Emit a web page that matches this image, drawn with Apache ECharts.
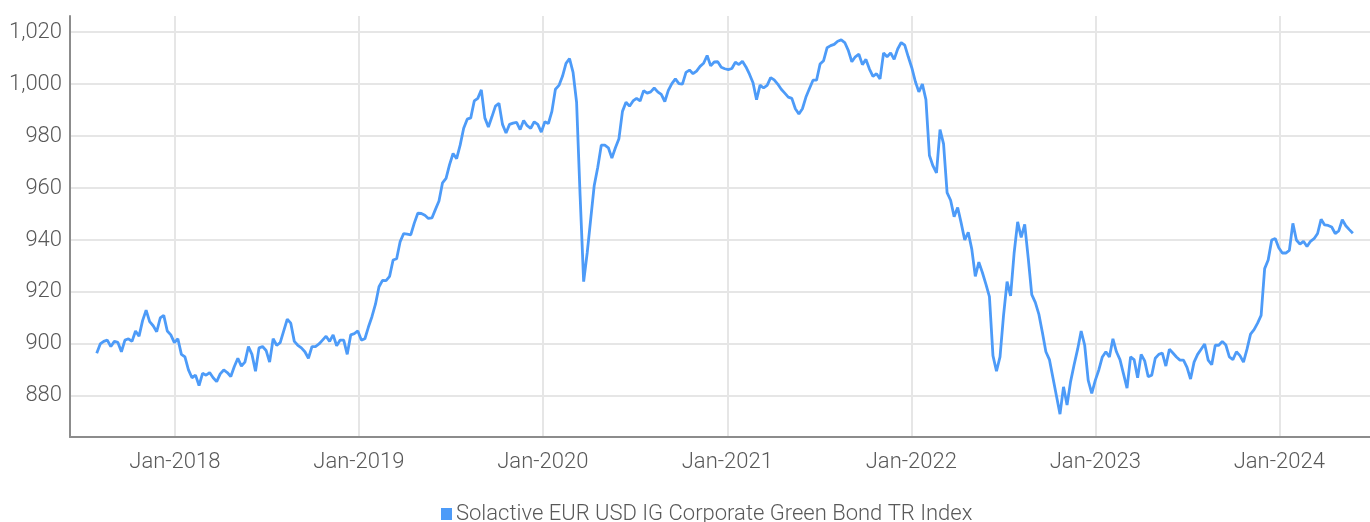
<!DOCTYPE html>
<html>
<head>
<meta charset="utf-8">
<script src="https://cdn.jsdelivr.net/npm/echarts@6/dist/echarts.min.js"></script>
<style>
  html, body { margin: 0; padding: 0; background: #fff; }
  #chart { width: 1370px; height: 522px; }
</style>
</head>
<body>
<div id="chart"></div>
<script>
// weekly closes, first point 2017-07-30
const seriesName = 'Solactive EUR USD IG Corporate Green Bond TR Index'
const startDate = '2017-07-30'
const stepDays = 7
const indexValues = [
  896.4, 900, 901, 901.5, 899, 901, 900.6, 897, 901.5, 902,
  901, 905, 903, 909, 913, 908.6, 907, 904.7, 910, 911,
  905, 903.5, 900.5, 902, 896, 895, 890, 887, 888, 884,
  888.7, 888, 889, 887, 885.5, 888.5, 890, 889, 887.5, 891.3,
  894.5, 891.5, 893, 899, 896, 889.5, 898.5, 899, 897.5, 893,
  902, 899.5, 900.5, 905, 909.5, 908, 901, 899.5, 898.5, 897,
  894.5, 899, 899, 900, 901.5, 903, 901, 903.5, 899.3, 901.5,
  901.5, 896, 903.5, 904, 905, 901.5, 902, 906.5, 910.5, 915.3,
  922, 924.5, 924.4, 926, 932.3, 932.8, 939.4, 942.5, 942.3, 942,
  946.5, 950.3, 950.2, 949.5, 948.3, 948.5, 951.8, 955, 962, 963.7,
  969, 973.3, 971.3, 976.5, 983, 986.5, 987, 993.5, 994.5, 997.8,
  987, 983.5, 987.4, 991.5, 992.6, 984.5, 981.2, 984.5, 985, 985.3,
  982.5, 986, 984, 983, 985.5, 984.5, 981.5, 985.5, 984.8, 989.5,
  998, 999.5, 1003, 1008, 1009.8, 1004.5, 993, 957, 924, 935,
  948, 961, 968, 976.5, 976.5, 975.5, 971.5, 975.5, 979, 989.5,
  993, 991.5, 993.5, 994.5, 993.5, 997.5, 996.5, 997, 998.5, 997,
  996, 993.3, 997.6, 1000.2, 1002, 1000.2, 1000, 1004.5, 1005.4, 1004,
  1005, 1006.8, 1008, 1011, 1007, 1008.5, 1008.6, 1006.5, 1005.9, 1005.6,
  1006, 1008.4, 1007.5, 1008.8, 1006.6, 1003.8, 1000.5, 994, 999.6, 998.5,
  999.5, 1002.5, 1001.6, 1000, 998, 996.5, 995, 994.5, 990.5, 988.5,
  990.5, 995, 998.3, 1001.5, 1001.5, 1007.7, 1009, 1014, 1014.8, 1015.3,
  1016.5, 1017, 1016, 1013, 1008.6, 1010.5, 1011.5, 1007.5, 1009.5, 1005.8,
  1003, 1004, 1002, 1012, 1010.5, 1012, 1009.5, 1013.5, 1016, 1015,
  1010.5, 1006.3, 1001, 997, 1000, 994, 972.5, 968.5, 965.8, 982.5,
  977, 958.2, 955.3, 949, 952.5, 946.5, 940, 943, 936.5, 926,
  931.5, 927.5, 923, 918.2, 895.5, 889.5, 895, 911, 924, 918.5,
  935, 947, 941, 946, 933, 919, 916, 911.5, 904.5, 897,
  894, 887, 880, 873, 883.5, 876.5, 885.5, 892, 898, 905,
  899.5, 886, 881, 886, 890, 895, 897, 895, 902, 897,
  894, 888.5, 883, 895, 894, 887, 896, 893.5, 887.4, 888,
  894.5, 896, 896.5, 891.5, 898, 896.5, 895, 893.8, 893.8, 891,
  886.5, 893, 896, 898, 900, 893.8, 892, 899.5, 899.5, 901,
  899.6, 895, 894, 897, 895.5, 893, 898, 903.8, 905.5, 908,
  911, 929, 932.3, 940, 940.6, 937, 935, 935, 936, 946.4,
  940, 938.4, 939.5, 937.5, 939.5, 940.5, 942.5, 948, 945.8, 945.6,
  945, 942.5, 943.5, 947.8, 945.5, 944, 942.6
]
const xMin = '2017-06-07'
const xMax = '2024-06-29'
const yMin = 864.2
const yMax = 1026.2

const dayMs = 24 * 3600 * 1000
const t0 = new Date(startDate + 'T00:00:00Z').getTime()
const points = indexValues.map((v, i) => [t0 + i * stepDays * dayMs, v])

const textColor = '#595959'
const gridColor = '#e6e6e6'
const font = 'Roboto, "Noto Sans", sans-serif'

const myChart = echarts.init(document.getElementById('chart'))
const option = {
  animation: false,
  textStyle: { fontFamily: font },
  grid: { left: 70, right: 0, top: 16, bottom: 85, containLabel: false },
  legend: {
    data: [seriesName],
    left: 436,
    top: 498,
    icon: 'rect',
    itemWidth: 11,
    itemHeight: 12,
    itemGap: 4,
    textStyle: { color: textColor, fontSize: 22, fontWeight: 300, fontFamily: font, padding: [0, 0, 0, -1] }
  },
  xAxis: {
    type: 'time',
    min: xMin,
    max: xMax,
    minInterval: 365 * dayMs,
    maxInterval: 366 * dayMs,
    axisLine: { lineStyle: { color: '#8c8c8c', width: 2 } },
    axisTick: { show: false },
    splitLine: { show: true, showMinLine: false, showMaxLine: false, lineStyle: { color: gridColor, width: 2 } },
    axisLabel: {
      color: textColor,
      fontSize: 22,
      fontWeight: 300,
      margin: 14,
      showMinLabel: false,
      showMaxLabel: false,
      formatter: function (val) {
        const d = new Date(val)
        if (d.getUTCMonth() === 0 && d.getUTCDate() === 1) return 'Jan-' + d.getUTCFullYear()
        return ''
      }
    }
  },
  yAxis: {
    type: 'value',
    min: yMin,
    max: yMax,
    splitNumber: 8,
    axisLine: { show: true, lineStyle: { color: '#8c8c8c', width: 2 } },
    axisTick: { show: false },
    splitLine: { show: true, showMinLine: false, showMaxLine: false, lineStyle: { color: gridColor, width: 2 } },
    axisLabel: {
      color: textColor,
      fontSize: 22,
      fontWeight: 300,
      margin: 8,
      showMinLabel: false,
      showMaxLabel: false,
      formatter: function (v) { return Math.round(v).toLocaleString('en-US') }
    }
  },
  series: [
    {
      name: seriesName,
      type: 'line',
      data: points,
      showSymbol: false,
      color: '#4d9bf8',
      lineStyle: { width: 2.8, color: '#4d9bf8' }
    }
  ]
}
myChart.setOption(option)
</script>
</body>
</html>
